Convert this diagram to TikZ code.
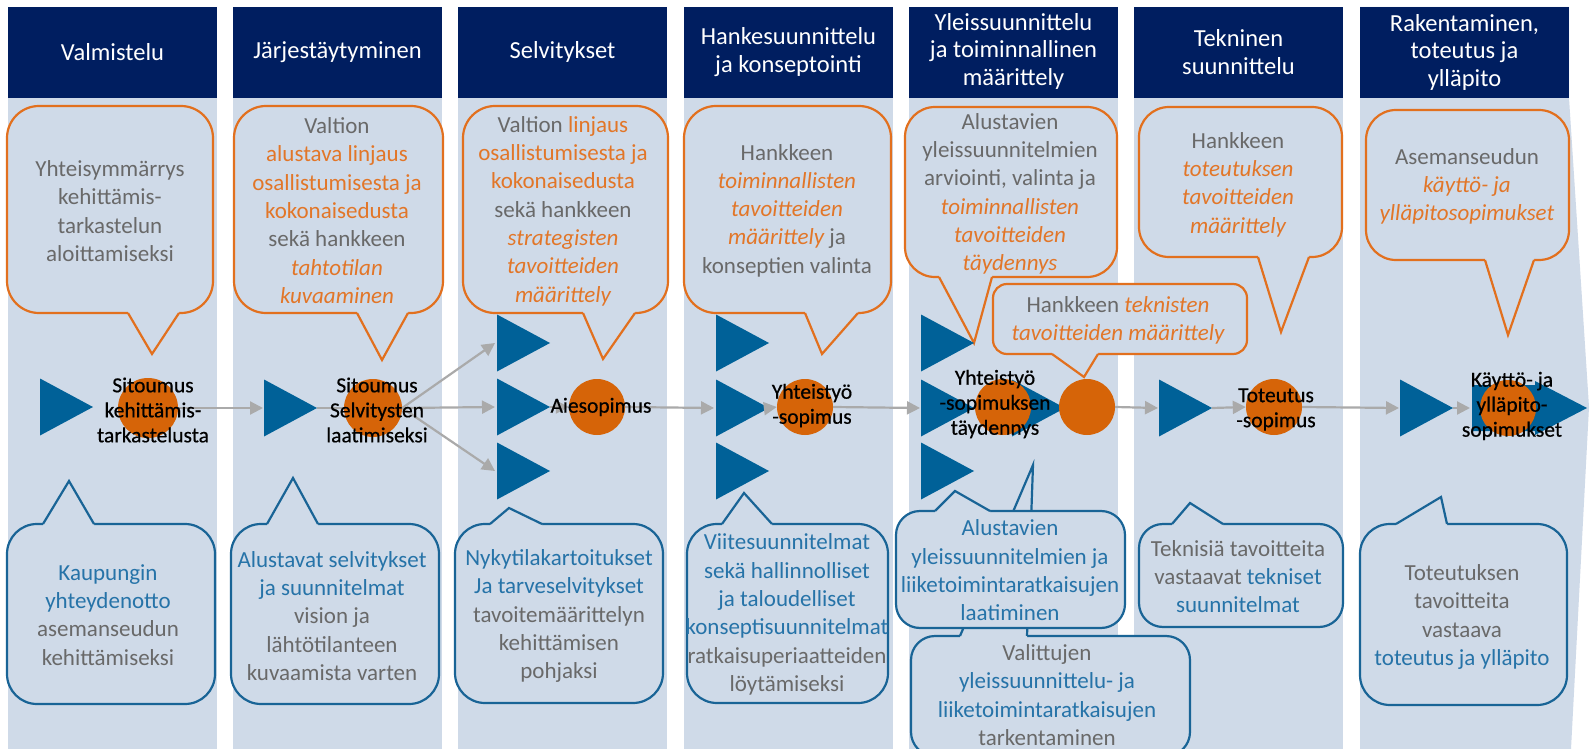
\documentclass[tikz,border=0pt]{standalone}
\usepackage{fontspec}
\setmainfont{Carlito}
\newfontfamily\labfont[FakeBold=0.5]{Carlito}
\usetikzlibrary{arrows.meta}
\definecolor{navy}{RGB}{0,30,96}
\definecolor{colbg}{RGB}{207,218,232}
\definecolor{corange}{RGB}{214,100,8}
\definecolor{lorange}{RGB}{226,112,30}
\definecolor{torange}{RGB}{226,118,40}
\definecolor{tgray}{RGB}{105,105,105}
\definecolor{tblue}{RGB}{38,115,168}
\definecolor{bblue}{RGB}{25,100,150}
\definecolor{triblue}{RGB}{0,97,152}
\definecolor{agray}{RGB}{170,170,170}
\newcommand\txo[1]{\textcolor{torange}{#1}}
\newcommand\txi[1]{\textcolor{torange}{\itshape #1}}
\newcommand\txb[1]{\textcolor{tblue}{#1}}
% style, x1,y1,x2,y2, base x1, base x2, tip x, tip y
\newcommand\mkcallout[9]{%
  \draw[#1] (#2,#3) rectangle (#4,#5);
  \pgfmathsetmacro\cedge{(#9>#5)?#5:#3}%
  \pgfmathsetmacro\cinset{(#9>#5)?-3:3}%
  \fill[#1,draw=none,sharp corners] (#6,\cedge+\cinset) -- (#6,\cedge) -- (#8,#9) -- (#7,\cedge) -- (#7,\cedge+\cinset) -- cycle;
  \draw[#1,fill=none,sharp corners] (#6,\cedge) -- (#8,#9) -- (#7,\cedge);
}
% name, left x, centre y
\newcommand\mktri[3]{%
  \fill[triblue] (#2,#3-28.5) -- (#2+53,#3) -- (#2,#3+28.5) -- cycle;
  \coordinate (#1w) at (#2,#3);
  \coordinate (#1e) at (#2+53,#3);
}
\begin{document}
\begin{tikzpicture}[x=1pt,y=-1pt,
  ocall/.style={draw=lorange,line width=2.2pt,fill=colbg},
  bcall/.style={draw=bblue,line width=2.2pt,fill=colbg},
  ctext/.style={align=center,text=tgray,font=\fontsize{23}{28.3}\selectfont,inner sep=0pt},
  htext/.style={align=center,text=white,font=\fontsize{24.5}{27.5}\selectfont,inner sep=0pt},
  lab/.style={align=center,text=black,font=\labfont\fontsize{21.5}{25}\selectfont,inner sep=0pt},
  circ/.style={circle,fill=corange,minimum size=56pt,inner sep=0pt},
  arr/.style={draw=agray,line width=2.2pt,-{Triangle[length=13pt,width=13pt]}},
  lin/.style={draw=agray,line width=2.2pt}]
\useasboundingbox (0,0) rectangle (1596,749);
\fill[white] (0,0) rectangle (1596,749);
% columns
\foreach \cx in {8,233,458,684,909,1134}{
  \fill[colbg] (\cx,7) rectangle (\cx+209,749);
  \fill[navy] (\cx,7) rectangle (\cx+209,98);
}
\fill[colbg] (1360,7) -- (1569,7) -- (1569,98) -- (1589,407) -- (1571,749) -- (1360,749) -- cycle;
\fill[navy] (1360,7) rectangle (1569,98);
% headers
\node[htext] (h1) at (112.5,52) {Valmistelu};
\node[htext] (h2) at (337.5,52) {Järjestäytyminen};
\node[htext] (h3) at (562.5,52) {Selvitykset};
\node[htext] (h4) at (788.5,52) {Hankesuunnittelu\\ja konseptointi};
\node[htext] (h5) at (1013.5,51) {Yleissuunnittelu\\ja toiminnallinen\\määrittely};
\node[htext] (h6) at (1238.5,52) {Tekninen\\suunnittelu};
\node[htext] (h7) at (1464.5,52) {Rakentaminen,\\toteutus ja\\ylläpito};
% top callouts
\mkcallout{ocall,rounded corners=32}{7}{106}{213}{313}{128}{179}{152}{354}
\mkcallout{ocall,rounded corners=32}{234}{106}{443}{313}{357}{408}{382}{360}
\mkcallout{ocall,rounded corners=32}{463}{106}{668}{313}{583}{635}{603}{359}
\mkcallout{ocall,rounded corners=32}{684}{106}{891}{313}{805}{858}{822}{354}
\mkcallout{ocall,rounded corners=30}{905}{107}{1117}{277}{939}{992}{974}{343}
\mkcallout{ocall,rounded corners=14}{993}{284}{1247}{354}{1052}{1098}{1084}{377}
\mkcallout{ocall,rounded corners=30}{1139}{107}{1342}{257}{1258}{1309}{1281}{332}
\mkcallout{ocall,rounded corners=30}{1366}{110}{1569}{260}{1485}{1534}{1508}{335}
% bottom callouts
\mkcallout{bcall,rounded corners=30}{7}{524}{215}{704}{43}{94}{69}{481}
\mkcallout{bcall,rounded corners=30}{231}{524}{439}{704}{267}{318}{293}{478}
\mkcallout{bcall,rounded corners=30}{455}{524}{663}{703}{490}{542}{509}{508}
\mkcallout{bcall,rounded corners=30}{687}{524}{888}{703}{722}{772}{744}{493}
\mkcallout{bcall,rounded corners=24}{911}{636}{1190}{756}{960}{1027}{1033}{465}
\mkcallout{bcall,rounded corners=24}{896}{511}{1125}{628}{935}{990}{955}{491}
\mkcallout{bcall,rounded corners=24}{1139}{524}{1343}{627}{1172}{1223}{1190}{503}
\mkcallout{bcall,rounded corners=30}{1360}{524}{1567}{705}{1396}{1447}{1441}{497}
% callout texts
\node[ctext] (u1) at (110,211) {Yhteisymmärrys\\kehittämis-\\tarkastelun\\aloittamiseksi};
\node[ctext] (u2) at (337,210.5) {Valtion\\\txo{alustava linjaus}\\\txo{osallistumisesta ja}\\\txo{kokonaisedusta}\\sekä hankkeen\\\txi{tahtotilan}\\\txi{kuvaaminen}};
\node[ctext] (u3) at (563,211) {Valtion \txo{linjaus}\\\txo{osallistumisesta ja}\\\txo{kokonaisedusta}\\sekä hankkeen\\\txi{strategisten}\\\txi{tavoitteiden}\\\txi{määrittely}};
\node[ctext] (u4) at (787,210.5) {Hankkeen\\\txi{toiminnallisten}\\\txi{tavoitteiden}\\\txi{määrittely} ja\\konseptien valinta};
\node[ctext] (u5) at (1010,194) {Alustavien\\yleissuunnitelmien\\arviointi, valinta ja\\\txi{toiminnallisten}\\\txi{tavoitteiden}\\\txi{täydennys}};
\node[ctext] (u5s) at (1118,320.5) {Hankkeen \txi{teknisten}\\\txi{tavoitteiden määrittely}};
\node[ctext] (u6) at (1238,184.5) {Hankkeen\\\txi{toteutuksen}\\\txi{tavoitteiden}\\\txi{määrittely}};
\node[ctext] (u7) at (1467,186.5) {Asemanseudun\\\txi{käyttö- ja}\\\txi{ylläpitosopimukset}};
\node[ctext] (d1) at (108,615) {\txb{Kaupungin}\\\txb{yhteydenotto}\\asemanseudun\\kehittämiseksi};
\node[ctext] (d2) at (332,616) {\txb{Alustavat selvitykset}\\\txb{ja suunnitelmat}\\vision ja\\lähtötilanteen\\kuvaamista varten};
\node[ctext] (d3) at (559,616) {\txb{Nykytilakartoitukset}\\\txb{Ja tarveselvitykset}\\tavoitemäärittelyn\\kehittämisen\\pohjaksi};
\node[ctext] (d4) at (787,614.5) {\txb{Viitesuunnitelmat}\\\txb{sekä hallinnolliset}\\\txb{ja taloudelliset}\\\txb{konseptisuunnitelmat}\\ratkaisuperiaatteiden\\löytämiseksi};
\node[ctext] (d5a) at (1010,570.5) {\txb{Alustavien}\\\txb{yleissuunnitelmien ja}\\\txb{liiketoimintaratkaisujen}\\\txb{laatiminen}};
\node[ctext] (d5b) at (1047,695) {Valittujen\\\txb{yleissuunnittelu- ja}\\\txb{liiketoimintaratkaisujen}\\tarkentaminen};
\node[ctext] (d6) at (1238,576.5) {Teknisiä tavoitteita\\vastaavat \txb{tekniset}\\\txb{suunnitelmat}};
\node[ctext] (d7) at (1462,617) {Toteutuksen\\tavoitteita\\vastaava\\\txb{toteutus ja ylläpito}};
% triangles (coordinates)
\mktri{t1}{40}{407}
\mktri{t2}{264}{408}
\mktri{t3a}{497}{343}
\mktri{t3b}{497}{407}
\mktri{t3c}{497}{471}
\mktri{t4a}{716}{343}
\mktri{t4b}{716}{408}
\mktri{t4c}{716}{471}
\mktri{t5a}{921}{343}
\mktri{t5b}{921}{408}
\mktri{t5c}{921}{471}
\mktri{t5d}{1012}{408}
\mktri{t6}{1159}{408}
\mktri{t7}{1400}{408}
\fill[triblue] (1472,385) -- (1535,385) -- (1535,381) -- (1587,408) -- (1535,435) -- (1535,431) -- (1472,431) -- cycle;
\coordinate (pw) at (1472,408);
% circles
\node[circ,minimum size=60pt] (c1) at (148,408) {};
\node[circ,minimum size=58pt] (c2) at (373,408) {};
\node[circ] (c3) at (597,407) {};
\node[circ] (c4) at (805,407) {};
\node[circ] (c5a) at (1003,407) {};
\node[circ] (c5b) at (1087,407) {};
\node[circ] (c6) at (1274,407) {};
\node[circ] (c7) at (1508,408) {};
% connectors
\draw[arr] (c1.east) -- ([xshift=-1pt]t2w);
\draw[lin] (t2e) -- (c2.west);
\draw[arr] (c2.east) -- ([xshift=-2pt]t3aw);
\draw[arr] (c2.east) -- ([xshift=-2pt]t3bw);
\draw[arr] (c2.east) -- ([xshift=-2pt]t3cw);
\draw[arr] (t3be) -- (c3.west);
\draw[arr] (c3.east) -- ([xshift=-2pt]t4bw);
\draw[arr] (t4be) -- (c4.west);
\draw[arr] (c4.east) -- ([xshift=-1pt]t5bw);
\draw[arr] (c5b.east) -- ([xshift=-1pt]t6w);
\draw[arr] (t6e) -- (c6.west);
\draw[arr] (c6.east) -- ([xshift=-1pt]t7w);
\draw[arr] (t7e) -- ([xshift=-2pt]pw);
% labels
\node[lab] (l1) at (153,410) {Sitoumus\\kehittämis-\\tarkastelusta};
\node[lab] (l2) at (377,410) {Sitoumus\\Selvitysten\\laatimiseksi};
\node[lab] (l3) at (601,407) {Aiesopimus};
\node[lab] (l4) at (812,405.5) {Yhteistyö\\-sopimus};
\node[lab] (l5) at (995,404) {Yhteistyö\\-sopimuksen\\täydennys};
\node[lab] (l6) at (1276,409.5) {Toteutus\\-sopimus};
\node[lab] (l7) at (1512,406) {Käyttö- ja\\ylläpito-\\sopimukset};
\end{tikzpicture}
\end{document}
